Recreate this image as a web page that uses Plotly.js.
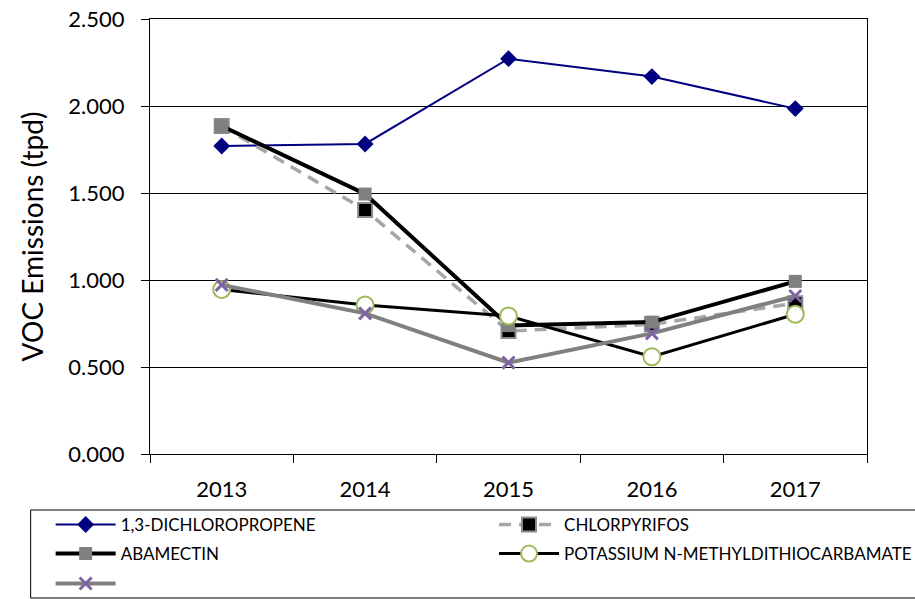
<!DOCTYPE html>
<html>
<head>
<meta charset="utf-8">
<script src="https://cdn.plot.ly/plotly-3.0.1.min.js"></script>
<style>html,body{margin:0;padding:0;background:#fff;}#chart{width:915px;height:599px;}</style>
</head>
<body>
<div id="chart"></div>
<script>
var years = ["2013", "2014", "2015", "2016", "2017"];
var dichloropropene = [1.770, 1.782, 2.272, 2.169, 1.985];
var chlorpyrifos = [1.885, 1.402, 0.707, 0.745, 0.866];
var abamectin = [1.885, 1.494, 0.738, 0.758, 0.992];
var potassium = [0.945, 0.856, 0.793, 0.559, 0.803];
var unnamed = [0.972, 0.808, 0.525, 0.693, 0.908];
var seriesNames = ["1,3-DICHLOROPROPENE", "CHLORPYRIFOS", "ABAMECTIN", "POTASSIUM N-METHYLDITHIOCARBAMATE", " "];
var yTicks = [0, 0.5, 1.0, 1.5, 2.0, 2.5];

var W = 915, H = 599, L = 149.5, R = 867.5, T = 19, B = 454;
function px(x) { return (x - L) / (R - L); }
function py(y) { return (B - y) / (B - T); }

var traces = [
  {x: years, y: dichloropropene, name: seriesNames[0], type: 'scatter', mode: 'lines+markers', legend: 'legend',
   line: {color: '#000080', width: 2}, marker: {symbol: 'diamond', size: 13, color: '#000080'}},
  {x: years, y: chlorpyrifos, name: seriesNames[1], type: 'scatter', mode: 'lines+markers', legend: 'legend2',
   line: {color: '#A6A6A6', width: 3.5, dash: '12px,8px'}, marker: {symbol: 'square', size: 14, color: '#000000', line: {color: '#8C8C8C', width: 2}}},
  {x: years, y: abamectin, name: seriesNames[2], type: 'scatter', mode: 'lines+markers', legend: 'legend3',
   line: {color: '#000000', width: 4}, marker: {symbol: 'square', size: 13, color: '#808080'}},
  {x: years, y: potassium, name: seriesNames[3], type: 'scatter', mode: 'lines+markers', legend: 'legend4',
   line: {color: '#000000', width: 3}, marker: {symbol: 'circle', size: 17, color: '#FFFFFF', line: {color: '#9BBB59', width: 2}}},
  {x: years, y: unnamed, name: seriesNames[4], type: 'scatter', mode: 'lines+markers', legend: 'legend5',
   line: {color: '#808080', width: 4}, marker: {symbol: 'x-thin', size: 12, color: '#8064A2', line: {color: '#8064A2', width: 3}}}
];

var legFont = {family: 'Lato, "Open Sans", sans-serif', size: 17, color: '#000'};
function leg(x, y) {
  return {x: px(x), y: py(y), xanchor: 'left', yanchor: 'middle', bgcolor: 'rgba(0,0,0,0)', borderwidth: 0, font: legFont, itemwidth: 60};
}

var layout = {
  width: W, height: H,
  margin: {l: L, r: W - R, t: T, b: H - B, pad: 0, autoexpand: false},
  paper_bgcolor: '#fff', plot_bgcolor: '#fff',
  font: {family: 'Lato, "Open Sans", sans-serif', color: '#000'},
  showlegend: true,
  xaxis: {
    type: 'category', range: [-0.5, 4.5], showline: true, linecolor: '#000', linewidth: 1, mirror: true,
    ticks: 'outside', tickson: 'boundaries', ticklen: 8, tickcolor: '#000', showgrid: false, ticklabelstandoff: 16,
    tickfont: {size: 22, family: 'Lato, sans-serif', color: '#000'}, fixedrange: true
  },
  yaxis: {
    range: [0, 2.5], tickvals: yTicks, tickformat: '.3f', showline: true, linecolor: '#000', linewidth: 1, mirror: true,
    ticks: 'outside', ticklen: 8, tickcolor: '#000', showgrid: true, gridcolor: '#000', gridwidth: 1, zeroline: false,
    ticklabelstandoff: 12,
    tickfont: {size: 22, family: 'Lato, sans-serif', color: '#000'},
    title: {text: 'VOC Emissions (tpd)', font: {size: 28, family: 'Lato, sans-serif', color: '#000'}, standoff: 16}
  },
  legend: leg(50, 525),
  legend2: leg(494, 525),
  legend3: leg(50, 554),
  legend4: leg(494, 554),
  legend5: leg(50, 584),
  shapes: [
    {type: 'rect', xref: 'paper', yref: 'paper', x0: px(30), x1: px(935), y0: py(510), y1: py(598), line: {color: '#000', width: 1}}
  ]
};

Plotly.newPlot('chart', traces, layout, {displayModeBar: false, staticPlot: true});
</script>
</body>
</html>
